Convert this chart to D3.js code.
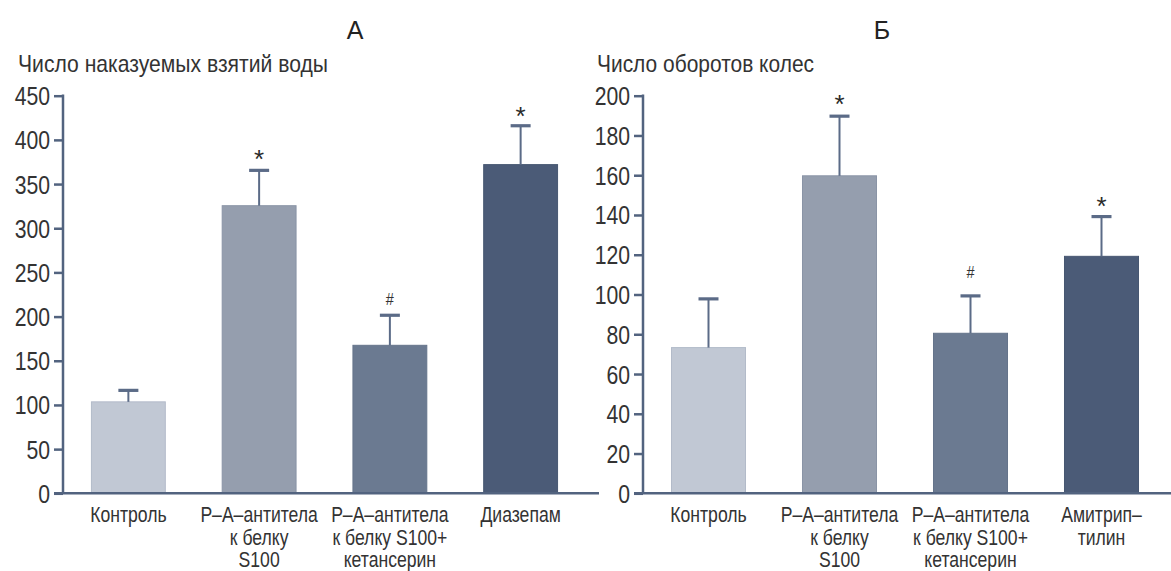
<!DOCTYPE html>
<html><head><meta charset="utf-8">
<script src="https://cdn.jsdelivr.net/npm/d3@7"></script>
<style>
html,body{margin:0;padding:0;background:#fff;}
svg{display:block;}
text{font-family:"Liberation Sans",Arial,sans-serif;}
</style></head>
<body>
<svg id="c" width="1171" height="571"></svg>
<script>
// ---- data ----
const categoriesA = [["Контроль"], ["Р–А–антитела","к белку","S100"], ["Р–А–антитела","к белку S100+","кетансерин"], ["Диазепам"]];
const valuesA = [103.5, 325.5, 167.5, 372];
const errorTopA = [116.5, 365.5, 201.5, 416];
const marksA = ["", "*", "#", "*"];
const markLevelA = [null, 385.7, 219.8, 434];
const ticksA = [0, 50, 100, 150, 200, 250, 300, 350, 400, 450];

const categoriesB = [["Контроль"], ["Р–А–антитела","к белку","S100"], ["Р–А–антитела","к белку S100+","кетансерин"], ["Амитрип–","тилин"]];
const valuesB = [73.3, 159.7, 80.5, 119.2];
const errorTopB = [97.8, 189.7, 99.3, 139.2];
const marksB = ["", "*", "#", "*"];
const markLevelB = [null, 198.8, 111.3, 147.6];
const ticksB = [0, 20, 40, 60, 80, 100, 120, 140, 160, 180, 200];

const titleA = "А", titleB = "Б";
const yLabelA = "Число наказуемых взятий воды";
const yLabelB = "Число оборотов колес";

// ---- style ----
const barColors = ["#c1c8d4", "#959eae", "#6b7a91", "#4b5b77"];
const barStroke = ["#b3bbc9", "#8a94a6", "#65748b", "#475771"];
const axisColor = "#52637f";
const errColor = "#5b6b87";
const textColor = "#333";

const svg = d3.select("#c");

// narrow text helper (horizontal compression to mimic a condensed face)
function ntext(g, str, x, y, size, sx, anchor) {
  return g.append("text").text(str)
    .attr("transform", `translate(${x},${y}) scale(${sx},1)`)
    .attr("text-anchor", anchor || "middle")
    .attr("font-size", size).attr("fill", textColor);
}

function panel(opt) {
  const g = svg.append("g");
  const y = d3.scaleLinear().domain([0, opt.max]).range([493.3, 95.7]);
  const x = d3.scaleBand().domain(d3.range(opt.values.length))
    .range([opt.x0, opt.x1]).paddingInner(0.435).paddingOuter(0.2175);
  const cx = i => x(i) + x.bandwidth() / 2;

  // bars
  g.selectAll("rect.bar").data(opt.values).join("rect")
    .attr("class", "bar")
    .attr("x", (d, i) => x(i)).attr("width", x.bandwidth())
    .attr("y", d => y(d)).attr("height", d => y(0) - y(d))
    .attr("fill", (d, i) => barColors[i])
    .attr("stroke", (d, i) => barStroke[i]).attr("stroke-width", 1);

  // error bars
  g.selectAll("line.err").data(opt.errTop).join("line")
    .attr("class", "err")
    .attr("x1", (d, i) => cx(i)).attr("x2", (d, i) => cx(i))
    .attr("y1", (d, i) => y(opt.values[i])).attr("y2", d => y(d))
    .attr("stroke", errColor).attr("stroke-width", 2);
  g.selectAll("line.cap").data(opt.errTop).join("line")
    .attr("class", "cap")
    .attr("x1", (d, i) => cx(i) - 10).attr("x2", (d, i) => cx(i) + 10)
    .attr("y1", d => y(d)).attr("y2", d => y(d))
    .attr("stroke", errColor).attr("stroke-width", 3.2);

  // significance marks
  opt.marks.forEach((m, i) => {
    if (!m) return;
    const yc = y(opt.markLevel[i]);
    if (m === "*") {
      g.append("text").text(m).attr("x", cx(i)).attr("y", yc + 15)
        .attr("text-anchor", "middle").attr("font-size", 26).attr("fill", "#2a2a2a");
    } else {
      ntext(g, m, cx(i), yc + 6, 17, 0.85).attr("fill", "#333");
    }
  });

  // y axis ticks (lines via d3 axis, labels drawn narrow)
  const ya = g.append("g").attr("transform", `translate(${opt.x0},0)`)
    .call(d3.axisLeft(y).tickValues(opt.ticks).tickSize(9).tickSizeOuter(0));
  ya.select(".domain").remove();
  ya.selectAll(".tick line").attr("stroke", axisColor).attr("stroke-width", 2.5);
  ya.selectAll(".tick text").remove();
  opt.ticks.forEach(t => {
    ntext(g, String(t), opt.x0 - 13, y(t) + 9.5, 26.5, 0.8, "end");
  });
  g.append("line").attr("x1", opt.x0).attr("x2", opt.x0)
    .attr("y1", y(opt.max) - 1.2).attr("y2", y(0))
    .attr("stroke", axisColor).attr("stroke-width", 2.5);
  // x axis line
  g.append("line").attr("x1", opt.x0 - 9).attr("x2", opt.xEnd)
    .attr("y1", y(0)).attr("y2", y(0))
    .attr("stroke", axisColor).attr("stroke-width", 2.5);

  // category labels
  opt.cats.forEach((lines, i) => {
    lines.forEach((ln, k) => {
      ntext(g, ln, cx(i), 522 + k * 22.5, 22, 0.8);
    });
  });

  // title and y label
  g.append("text").text(opt.title).attr("x", opt.titleX).attr("y", 39)
    .attr("text-anchor", "middle").attr("font-size", 25).attr("fill", "#222");
  g.append("text").text(opt.yLabel).attr("x", opt.yLabelX).attr("y", 72)
    .attr("font-size", 24).attr("fill", textColor)
    .attr("textLength", opt.yLabelW).attr("lengthAdjust", "spacingAndGlyphs");
}

panel({ values: valuesA, errTop: errorTopA, marks: marksA, markLevel: markLevelA, ticks: ticksA,
  max: 450, x0: 63, x1: 586, xEnd: 599, cats: categoriesA, title: titleA, titleX: 355,
  yLabel: yLabelA, yLabelX: 18, yLabelW: 310 });
panel({ values: valuesB, errTop: errorTopB, marks: marksB, markLevel: markLevelB, ticks: ticksB,
  max: 200, x0: 643, x1: 1167, xEnd: 1171, cats: categoriesB, title: titleB, titleX: 882,
  yLabel: yLabelB, yLabelX: 597, yLabelW: 217 });
</script>
</body></html>
